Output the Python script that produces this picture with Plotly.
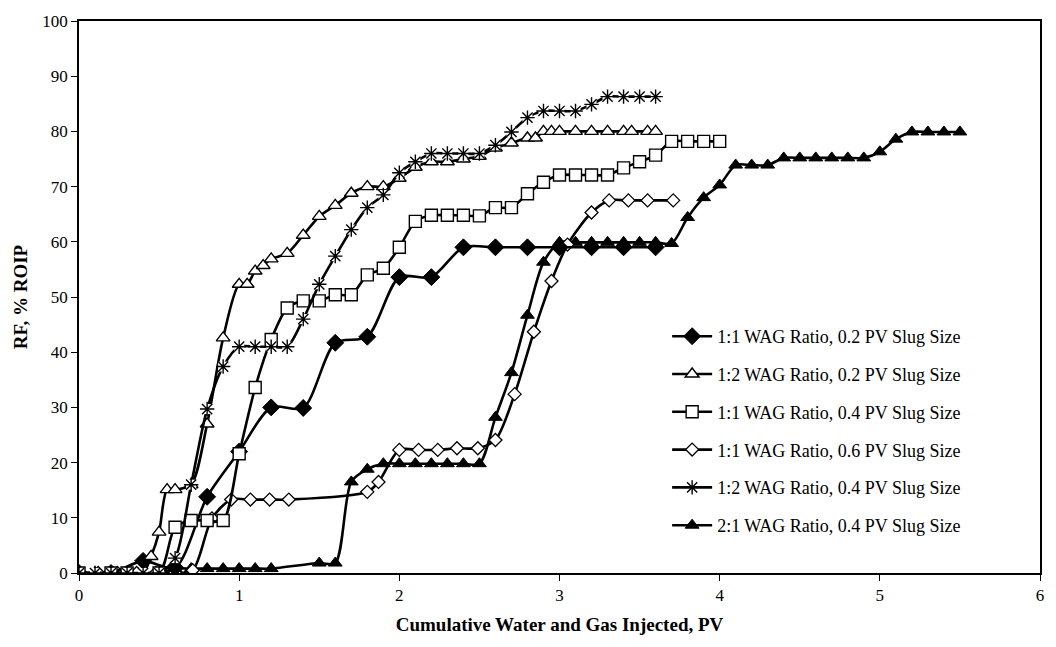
import plotly.graph_objects as go

# ---------------- data ----------------
names = [
    "1:1 WAG Ratio, 0.2 PV Slug Size",
    "1:2 WAG Ratio, 0.2 PV Slug Size",
    "1:1 WAG Ratio, 0.4 PV Slug Size",
    "1:1 WAG Ratio, 0.6 PV Slug Size",
    "1:2 WAG Ratio, 0.4 PV Slug Size",
    "2:1 WAG Ratio, 0.4 PV Slug Size",
]

s1_x = [0, 0.2, 0.4, 0.6, 0.8, 1.0, 1.2, 1.4, 1.6, 1.8, 2.0, 2.2, 2.4, 2.6, 2.8, 3.0, 3.2, 3.4, 3.6]
s1_y = [0, 0, 2.2, 1.0, 13.8, 22, 30.0, 29.9, 41.7, 42.8, 53.6, 53.6, 59.0, 59.0, 59.0, 59.0, 59.0, 59.0, 59.0]

s2_x = [0, 0.1, 0.2, 0.3, 0.4, 0.45, 0.5, 0.55, 0.6, 0.7, 0.8, 0.9, 1.0, 1.05, 1.1, 1.15, 1.2, 1.3, 1.4,
        1.5, 1.6, 1.7, 1.8, 1.9, 2.0, 2.1, 2.2, 2.3, 2.4, 2.5, 2.6, 2.7, 2.8, 2.85, 2.9, 2.95, 3.0, 3.1,
        3.2, 3.3, 3.4, 3.45, 3.55, 3.6]
s2_y = [0, 0, 0, 0, 0, 3.0, 7.4, 15.1, 15.1, 16.0, 27.0, 42.6, 52.3, 52.3, 54.7, 55.7, 56.9, 57.9, 61.2,
        64.6, 66.6, 68.8, 70.0, 70.0, 71.5, 73.5, 74.5, 74.5, 75.0, 75.5, 77.0, 77.9, 78.8, 78.8, 80.0, 80.0,
        80.0, 80.0, 80.0, 80.0, 80.0, 80.0, 80.0, 80.0]

s3_x = [0, 0.2, 0.3, 0.5, 0.6, 0.7, 0.8, 0.9, 1.0, 1.1, 1.2, 1.3, 1.4, 1.5, 1.6, 1.7, 1.8, 1.9, 2.0, 2.1,
        2.2, 2.3, 2.4, 2.5, 2.6, 2.7, 2.8, 2.9, 3.0, 3.1, 3.2, 3.3, 3.4, 3.5, 3.6, 3.7, 3.8, 3.9, 4.0]
s3_y = [0, 0, 0, 0, 8.3, 9.5, 9.5, 9.5, 21.6, 33.6, 42.3, 48.0, 49.3, 49.3, 50.4, 50.4, 54.0, 55.2, 59.0,
        63.7, 64.8, 64.8, 64.8, 64.7, 66.2, 66.2, 68.7, 70.8, 72.1, 72.1, 72.1, 72.1, 73.4, 74.5, 75.7,
        78.2, 78.2, 78.2, 78.2]

s4_x = [0, 0.12, 0.24, 0.36, 0.48, 0.6, 0.71, 0.83, 0.95, 1.07, 1.19, 1.31, 1.8, 1.87, 2.0, 2.12, 2.24,
        2.36, 2.49, 2.6, 2.72, 2.84, 2.95, 3.05, 3.2, 3.31, 3.43, 3.55, 3.71]
s4_y = [0, 0, 0, 0, 0, 0, 0.5, 9.9, 13.3, 13.3, 13.3, 13.3, 14.7, 16.5, 22.3, 22.3, 22.3, 22.6, 22.6,
        24.1, 32.4, 43.7, 52.9, 59.5, 65.3, 67.5, 67.5, 67.5, 67.5]

s5_x = [0, 0.1, 0.2, 0.3, 0.4, 0.5, 0.6, 0.7, 0.8, 0.9, 1.0, 1.1, 1.2, 1.3, 1.4, 1.5, 1.6, 1.7, 1.8, 1.9,
        2.0, 2.1, 2.2, 2.3, 2.4, 2.5, 2.6, 2.7, 2.8, 2.9, 3.0, 3.1, 3.2, 3.3, 3.4, 3.5, 3.6]
s5_y = [0, 0, 0, 0, 0, 0, 2.7, 16.0, 29.7, 37.4, 41.0, 41.0, 41.0, 41.0, 46.0, 52.3, 57.4, 62.2, 66.2,
        68.5, 72.5, 74.5, 76.0, 76.0, 76.0, 76.0, 77.5, 79.9, 82.5, 83.7, 83.7, 83.7, 84.9, 86.3, 86.3,
        86.3, 86.3]

s6_x = [0, 0.1, 0.2, 0.3, 0.4, 0.5, 0.6, 0.7, 0.8, 0.9, 1.0, 1.1, 1.2, 1.5, 1.6, 1.7, 1.8, 1.9, 2.0,
        2.1, 2.2, 2.3, 2.4, 2.5, 2.6, 2.7, 2.8, 2.9, 3.0, 3.1, 3.2, 3.3, 3.4, 3.5, 3.6, 3.7, 3.8, 3.9,
        4.0, 4.1, 4.2, 4.3, 4.4, 4.5, 4.6, 4.7, 4.8, 4.9, 5.0, 5.1, 5.2, 5.3, 5.4, 5.5]
s6_y = [0, 0, 0, 0, 0, 0, 0.8, 0.8, 0.8, 0.8, 0.8, 0.8, 0.8, 1.8, 1.8, 16.5, 18.8, 19.8, 19.8,
        19.8, 19.8, 19.8, 19.8, 19.8, 28.2, 36.3, 46.7, 56.3, 59.9, 59.9, 59.9, 59.9, 59.9, 59.9, 59.9,
        59.7, 64.4, 68.0, 70.3, 73.9, 73.9, 73.9, 75.2, 75.2, 75.2, 75.2, 75.2, 75.2, 76.3, 78.6, 79.9,
        79.9, 79.9, 79.9]

x_ticks = [0, 1, 2, 3, 4, 5, 6]
y_ticks = [0, 10, 20, 30, 40, 50, 60, 70, 80, 90, 100]
x_title = "Cumulative Water and Gas Injected, PV"
y_title = "RF, % ROIP"

# ---------------- styles ----------------
LW = 2.6
markers = [
    dict(symbol="diamond", size=13, color="black", line=dict(color="black", width=1)),
    dict(symbol="triangle-up", size=12, color="white", line=dict(color="black", width=1.4)),
    dict(symbol="square", size=12, color="white", line=dict(color="black", width=1.4)),
    dict(symbol="diamond", size=10, color="white", line=dict(color="black", width=1.3)),
    dict(symbol="asterisk-open", size=12, color="black", line=dict(color="black", width=1.4)),
    dict(symbol="triangle-up", size=12, color="black", line=dict(color="black", width=1)),
]
series = [(s1_x, s1_y), (s2_x, s2_y), (s3_x, s3_y), (s4_x, s4_y), (s5_x, s5_y), (s6_x, s6_y)]

fig = go.Figure()

for i, nm in enumerate(names):
    fig.add_trace(go.Scatter(
        x=[None], y=[None], mode="lines+markers", name=nm,
        line=dict(color="black", width=LW), marker=markers[i],
        legendgroup=f"g{i}", showlegend=True, hoverinfo="skip"))

draw_order = [5, 3, 0, 2, 1, 4]
for i in draw_order:
    xs, ys = series[i]
    line = dict(color="black", width=LW, shape="spline", smoothing=0.8)
    if i == 4:
        fig.add_trace(go.Scatter(x=xs, y=ys, mode="lines", line=line,
                                 showlegend=False, legendgroup=f"g{i}", hoverinfo="skip"))
        fig.add_trace(go.Scatter(x=xs, y=ys, mode="markers",
                                 marker=dict(symbol="square", size=10, color="white",
                                             line=dict(width=0)),
                                 showlegend=False, legendgroup=f"g{i}", hoverinfo="skip"))
        fig.add_trace(go.Scatter(x=xs, y=ys, mode="markers", marker=markers[i],
                                 showlegend=False, legendgroup=f"g{i}"))
    else:
        fig.add_trace(go.Scatter(x=xs, y=ys, mode="lines+markers", line=line,
                                 marker=markers[i], showlegend=False, legendgroup=f"g{i}"))

FONT = "'Liberation Serif', 'Times New Roman', serif"
fig.update_layout(
    width=1056, height=647,
    margin=dict(l=79, r=12, t=16, b=74),
    paper_bgcolor="white", plot_bgcolor="white",
    font=dict(family=FONT, size=17, color="black"),
    showlegend=True,
    legend=dict(
        x=0.612, y=0.462, xanchor="left", yanchor="top",
        bgcolor="rgba(0,0,0,0)", borderwidth=0,
        font=dict(family=FONT, size=18, color="black"),
        traceorder="grouped", tracegroupgap=11.4, itemwidth=40,
    ),
    xaxis=dict(
        range=[0, 6], tickvals=x_ticks, ticktext=[str(v) for v in x_ticks],
        showgrid=False, zeroline=False,
        showline=True, linecolor="black", linewidth=1.5, mirror=True,
        ticks="outside", ticklen=6, tickwidth=1.2, tickcolor="black",
        tickfont=dict(family=FONT, size=17),
        title=dict(text="<b>" + x_title + "</b>", font=dict(family=FONT, size=19), standoff=14),
    ),
    yaxis=dict(
        range=[0, 100], tickvals=y_ticks, ticktext=[str(v) for v in y_ticks],
        showgrid=False, zeroline=False,
        showline=True, linecolor="black", linewidth=1.5, mirror=True,
        ticks="outside", ticklen=6, tickwidth=1.2, tickcolor="black",
        tickfont=dict(family=FONT, size=17),
        title=dict(text="<b>" + y_title + "</b>", font=dict(family=FONT, size=19), standoff=10),
    ),
)

fig.write_html("out.html")
